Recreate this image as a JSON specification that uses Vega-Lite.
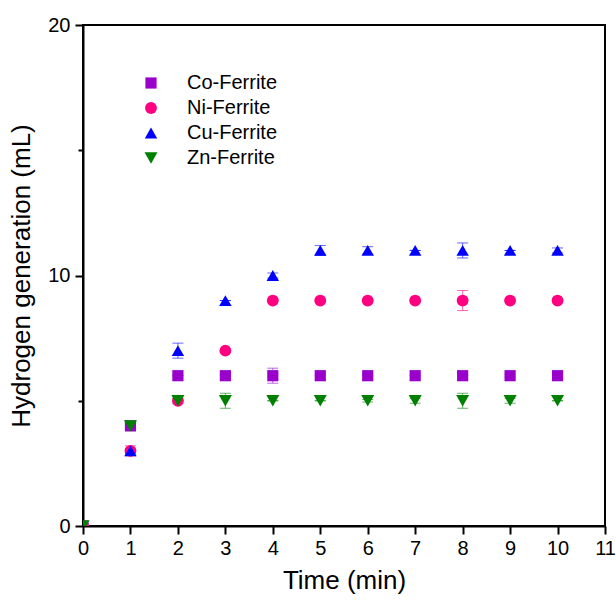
{
  "$schema": "https://vega.github.io/schema/vega-lite/v6.json",
  "autosize": "none",
  "width": 522,
  "height": 501,
  "padding": {"left": 83, "top": 25, "right": 11, "bottom": 77},
  "background": "white",
  "config": {
    "view": {"stroke": "black", "strokeWidth": 2},
    "font": "Liberation Sans",
    "axis": {
      "domainColor": "black", "domainWidth": 2, "tickColor": "black", "tickWidth": 2,
      "labelFont": "Liberation Sans", "labelFontSize": 20, "labelColor": "black",
      "titleFont": "Liberation Sans", "titleFontSize": 26, "titleFontWeight": "normal", "titleColor": "black",
      "grid": false
    },
    "legend": {"symbolOpacity": 1, "symbolStrokeWidth": 0, "symbolSize": 110}
  },
  "data": {"values": [
    {"time": 0, "series": "Co-Ferrite", "h": 0, "lo": 0, "hi": 0},
    {"time": 1, "series": "Co-Ferrite", "h": 4, "lo": 3.9, "hi": 4.1},
    {"time": 2, "series": "Co-Ferrite", "h": 6, "lo": 6, "hi": 6},
    {"time": 3, "series": "Co-Ferrite", "h": 6, "lo": 6, "hi": 6},
    {"time": 4, "series": "Co-Ferrite", "h": 6, "lo": 5.7, "hi": 6.3},
    {"time": 5, "series": "Co-Ferrite", "h": 6, "lo": 6, "hi": 6},
    {"time": 6, "series": "Co-Ferrite", "h": 6, "lo": 6, "hi": 6},
    {"time": 7, "series": "Co-Ferrite", "h": 6, "lo": 6, "hi": 6},
    {"time": 8, "series": "Co-Ferrite", "h": 6, "lo": 6, "hi": 6},
    {"time": 9, "series": "Co-Ferrite", "h": 6, "lo": 5.95, "hi": 6.05},
    {"time": 10, "series": "Co-Ferrite", "h": 6, "lo": 6, "hi": 6},
    {"time": 0, "series": "Ni-Ferrite", "h": 0, "lo": 0, "hi": 0},
    {"time": 1, "series": "Ni-Ferrite", "h": 3, "lo": 2.8, "hi": 3.2},
    {"time": 2, "series": "Ni-Ferrite", "h": 5, "lo": 5, "hi": 5},
    {"time": 3, "series": "Ni-Ferrite", "h": 7, "lo": 7, "hi": 7},
    {"time": 4, "series": "Ni-Ferrite", "h": 9, "lo": 9, "hi": 9},
    {"time": 5, "series": "Ni-Ferrite", "h": 9, "lo": 9, "hi": 9},
    {"time": 6, "series": "Ni-Ferrite", "h": 9, "lo": 9, "hi": 9},
    {"time": 7, "series": "Ni-Ferrite", "h": 9, "lo": 9, "hi": 9},
    {"time": 8, "series": "Ni-Ferrite", "h": 9, "lo": 8.6, "hi": 9.4},
    {"time": 9, "series": "Ni-Ferrite", "h": 9, "lo": 9, "hi": 9},
    {"time": 10, "series": "Ni-Ferrite", "h": 9, "lo": 9, "hi": 9},
    {"time": 0, "series": "Cu-Ferrite", "h": 0, "lo": 0, "hi": 0},
    {"time": 1, "series": "Cu-Ferrite", "h": 3, "lo": 2.9, "hi": 3.1},
    {"time": 2, "series": "Cu-Ferrite", "h": 7, "lo": 6.7, "hi": 7.3},
    {"time": 3, "series": "Cu-Ferrite", "h": 9, "lo": 9, "hi": 9},
    {"time": 4, "series": "Cu-Ferrite", "h": 10, "lo": 9.9, "hi": 10.1},
    {"time": 5, "series": "Cu-Ferrite", "h": 11, "lo": 10.8, "hi": 11.2},
    {"time": 6, "series": "Cu-Ferrite", "h": 11, "lo": 10.85, "hi": 11.15},
    {"time": 7, "series": "Cu-Ferrite", "h": 11, "lo": 11, "hi": 11},
    {"time": 8, "series": "Cu-Ferrite", "h": 11, "lo": 10.7, "hi": 11.3},
    {"time": 9, "series": "Cu-Ferrite", "h": 11, "lo": 11, "hi": 11},
    {"time": 10, "series": "Cu-Ferrite", "h": 11, "lo": 10.9, "hi": 11.1},
    {"time": 0, "series": "Zn-Ferrite", "h": 0, "lo": 0, "hi": 0},
    {"time": 1, "series": "Zn-Ferrite", "h": 4, "lo": 3.8, "hi": 4.1},
    {"time": 2, "series": "Zn-Ferrite", "h": 5, "lo": 4.9, "hi": 5.1},
    {"time": 3, "series": "Zn-Ferrite", "h": 5, "lo": 4.7, "hi": 5.3},
    {"time": 4, "series": "Zn-Ferrite", "h": 5, "lo": 5, "hi": 5},
    {"time": 5, "series": "Zn-Ferrite", "h": 5, "lo": 5, "hi": 5},
    {"time": 6, "series": "Zn-Ferrite", "h": 5, "lo": 4.95, "hi": 5.05},
    {"time": 7, "series": "Zn-Ferrite", "h": 5, "lo": 4.9, "hi": 5.1},
    {"time": 8, "series": "Zn-Ferrite", "h": 5, "lo": 4.7, "hi": 5.3},
    {"time": 9, "series": "Zn-Ferrite", "h": 5, "lo": 4.9, "hi": 5.1},
    {"time": 10, "series": "Zn-Ferrite", "h": 5, "lo": 5, "hi": 5}
  ]},
  "encoding": {
    "x": {"field": "time", "type": "quantitative",
      "scale": {"domain": [0, 11], "nice": false, "zero": false},
      "axis": {"values": [0,1,2,3,4,5,6,7,8,9,10,11], "tickSize": 8, "labelPadding": 4, "title": "Time (min)", "titlePadding": 9, "labelFlush": false}},
    "color": {"field": "series", "type": "nominal",
      "scale": {"domain": ["Co-Ferrite", "Ni-Ferrite", "Cu-Ferrite", "Zn-Ferrite"], "range": ["#9900CC", "#FF0080", "#0000FF", "#008000"]},
      "legend": {"orient": "none", "legendX": 58, "legendY": 48, "title": null, "labelFontSize": 20, "labelFont": "Liberation Sans", "labelColor": "black", "rowPadding": 5, "labelOffset": 26}}
  },
  "layer": [
    {
      "mark": {"type": "rule", "strokeWidth": 1, "opacity": 0.6, "clip": true},
      "encoding": {
        "y": {"field": "lo", "type": "quantitative", "scale": {"domain": [0, 20], "nice": false},
          "axis": {"values": [0, 5, 10, 15, 20], "labelExpr": "datum.value % 10 == 0 ? datum.label : ''",
            "tickSize": {"condition": {"test": "datum.value % 10 == 0", "value": 8}, "value": 5},
            "labelPadding": 5, "title": "Hydrogen generation (mL)", "titlePadding": 13}},
        "y2": {"field": "hi"}
      }
    },
    {
      "mark": {"type": "tick", "orient": "horizontal", "size": 11, "thickness": 1, "opacity": 0.6, "clip": true},
      "encoding": {"y": {"field": "lo", "type": "quantitative"}}
    },
    {
      "mark": {"type": "tick", "orient": "horizontal", "size": 11, "thickness": 1, "opacity": 0.6, "clip": true},
      "encoding": {"y": {"field": "hi", "type": "quantitative"}}
    },
    {
      "mark": {"type": "point", "filled": true, "opacity": 1, "clip": true},
      "encoding": {
        "y": {"field": "h", "type": "quantitative"},
        "size": {"field": "series", "type": "nominal", "legend": null,
          "scale": {"domain": ["Co-Ferrite", "Ni-Ferrite", "Cu-Ferrite", "Zn-Ferrite"], "range": [125, 170, 240, 240]}},
        "shape": {"field": "series", "type": "nominal",
          "scale": {"domain": ["Co-Ferrite", "Ni-Ferrite", "Cu-Ferrite", "Zn-Ferrite"], "range": ["square", "circle", "triangle-up", "triangle-down"]},
          "legend": {"orient": "none", "legendX": 58, "legendY": 48, "title": null, "labelFontSize": 20, "labelFont": "Liberation Sans", "labelColor": "black", "rowPadding": 5, "labelOffset": 26}}
      }
    }
  ]
}
